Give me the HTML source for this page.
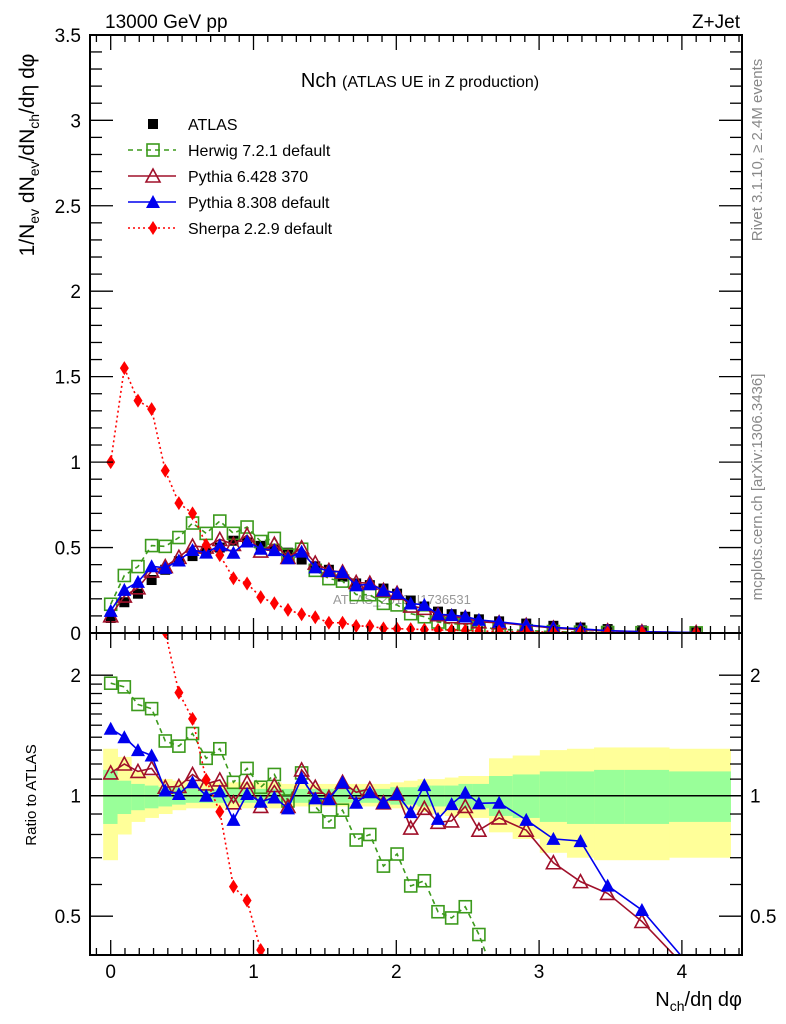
<!DOCTYPE html>
<html><head><meta charset="utf-8"><style>
html,body{margin:0;padding:0;background:#fff;width:786px;height:1024px;overflow:hidden;position:relative;}
svg{display:block;position:absolute;left:0;top:0;font-family:"Liberation Sans",Arial,sans-serif;}
</style></head><body>
<svg id="chart" width="786" height="1024" viewBox="0 0 786 1024" xmlns="http://www.w3.org/2000/svg">
<defs>
<clipPath id="clipTop"><rect x="90" y="35" width="652" height="598"/></clipPath>
<clipPath id="clipBot"><rect x="90" y="633" width="652" height="322"/></clipPath>
</defs>
<g id="bands" clip-path="url(#clipBot)"></g>
<g id="marksBot" clip-path="url(#clipBot)"></g>
<text x="333" y="604" font-size="13" fill="#999">ATLAS_2019_I1736531</text>
<g id="marksTop" clip-path="url(#clipTop)"></g>
<g id="axes"></g>
<text x="105" y="28" font-size="19">13000 GeV pp</text>
<text x="740" y="28" font-size="19" text-anchor="end">Z+Jet</text>
<text x="420" y="87" text-anchor="middle"><tspan font-size="20">Nch </tspan><tspan font-size="16">(ATLAS UE in Z production)</tspan></text>
<g id="legend"></g>
<text transform="translate(762,150) rotate(-90)" text-anchor="middle" font-size="15" fill="#888">Rivet 3.1.10, ≥ 2.4M events</text>
<text transform="translate(762,487) rotate(-90)" text-anchor="middle" font-size="15" fill="#888">mcplots.cern.ch [arXiv:1306.3436]</text>
<text transform="translate(34,155) rotate(-90)" text-anchor="middle" font-size="21">1/N<tspan font-size="14" dy="5">ev</tspan><tspan dy="-5"> dN</tspan><tspan font-size="14" dy="5">ev</tspan><tspan dy="-5">/dN</tspan><tspan font-size="14" dy="5">ch</tspan><tspan dy="-5">/dη dφ</tspan></text>
<text transform="translate(36,795) rotate(-90)" text-anchor="middle" font-size="15">Ratio to ATLAS</text>
<text x="742" y="1006" text-anchor="end" font-size="20">N<tspan font-size="14" dy="5">ch</tspan><tspan dy="-5">/dη dφ</tspan></text>
</svg>
<script>
const xVals=[0,0.0955,0.191,0.2865,0.382,0.4775,0.573,0.6685,0.764,0.8595,0.955,1.0505,1.146,1.2415,1.337,1.4325,1.528,1.6235,1.719,1.8145,1.91,2.0055,2.101,2.1965,2.292,2.3875,2.483,2.5785,2.72,2.91,3.10,3.29,3.48,3.72,4.10];
const atlas=[0.088,0.18,0.23,0.31,0.37,0.42,0.45,0.47,0.50,0.54,0.53,0.51,0.49,0.47,0.43,0.39,0.37,0.33,0.29,0.28,0.26,0.23,0.19,0.155,0.125,0.11,0.095,0.08,0.068,0.055,0.042,0.032,0.023,0.015,0.008];
const herwigRatio=[1.91,1.87,1.69,1.65,1.37,1.33,1.43,1.24,1.31,1.08,1.17,1.05,1.13,0.97,1.14,0.94,0.86,0.92,0.775,0.80,0.667,0.715,0.595,0.613,0.513,0.495,0.528,0.45,0.33,0.25,0.2,0.15,0.12,0.1,0.08];
const pythia6Ratio=[1.14,1.20,1.15,1.17,1.05,1.055,1.13,1.07,1.095,0.96,1.08,0.94,1.06,0.94,1.16,1.05,0.99,1.08,1.02,1.04,0.96,1.01,0.83,0.93,0.858,0.865,0.94,0.82,0.88,0.82,0.68,0.61,0.57,0.485,0.35];
const pythia8Ratio=[1.47,1.40,1.30,1.26,1.03,1.01,1.08,1.0,1.025,0.87,1.01,0.966,0.99,0.93,1.107,0.985,0.98,1.08,0.96,1.02,0.96,1.01,0.91,1.063,0.875,0.953,1.017,0.957,0.96,0.87,0.78,0.77,0.596,0.518,0.36];
const sherpa=[1.0,1.55,1.36,1.31,0.95,0.76,0.70,0.515,0.456,0.32,0.29,0.21,0.174,0.135,0.11,0.092,0.06,0.06,0.041,0.04,0.027,0.025,0.023,0.02,0.018,0.016,0.014,0.012,0.009,0.007,0.005,0.004,0.003,0.002,0.001];
const yellowHi=[1.31,1.25,1.15,1.12,1.10,1.09,1.08,1.08,1.08,1.08,1.08,1.08,1.08,1.07,1.07,1.07,1.07,1.07,1.07,1.07,1.07,1.08,1.09,1.10,1.10,1.11,1.12,1.12,1.24,1.26,1.30,1.31,1.32,1.32,1.31];
const yellowLo=[0.69,0.80,0.86,0.88,0.90,0.92,0.93,0.93,0.93,0.93,0.93,0.93,0.93,0.94,0.94,0.94,0.94,0.94,0.94,0.94,0.94,0.93,0.92,0.91,0.90,0.89,0.88,0.88,0.81,0.78,0.72,0.70,0.69,0.69,0.70];
const greenHi=[1.16,1.09,1.07,1.06,1.05,1.05,1.04,1.04,1.04,1.04,1.04,1.04,1.04,1.04,1.04,1.04,1.04,1.04,1.04,1.04,1.04,1.05,1.05,1.06,1.06,1.06,1.07,1.07,1.12,1.13,1.15,1.15,1.16,1.16,1.15];
const greenLo=[0.85,0.90,0.92,0.93,0.94,0.95,0.96,0.96,0.96,0.96,0.96,0.96,0.96,0.96,0.96,0.96,0.96,0.96,0.96,0.96,0.96,0.95,0.95,0.94,0.94,0.94,0.93,0.93,0.89,0.88,0.86,0.85,0.85,0.85,0.86];
const yTicksTop=[0,0.5,1,1.5,2,2.5,3,3.5];
const yTickLabelsTop=["0","0.5","1","1.5","2","2.5","3","3.5"];
const rTicks=[0.5,1,2];
const rTickLabels=["0.5","1","2"];
const xTicks=[0,1,2,3,4];
const xTickLabels=["0","1","2","3","4"];

const NS="http://www.w3.org/2000/svg";
const X=v=>110.7+142.8*v;
const Y=v=>633-170.9*v;
const R=r=>795.7-120.5*Math.log2(r);
function mk(tag,attrs,parent){const e=document.createElementNS(NS,tag);for(const k in attrs)e.setAttribute(k,attrs[k]);parent.appendChild(e);return e;}
const gTop=document.getElementById('marksTop'),gBot=document.getElementById('marksBot'),gAx=document.getElementById('axes'),gB=document.getElementById('bands'),gL=document.getElementById('legend');

for(let i=0;i<xVals.length;i++){
  const l=i===0?X(xVals[0])-7.5:(X(xVals[i-1])+X(xVals[i]))/2;
  const r=i===xVals.length-1?X(4.34):(X(xVals[i])+X(xVals[i+1]))/2;
  const y=mk('rect',{x:l,y:R(yellowHi[i]),width:r-l+0.5,height:R(yellowLo[i])-R(yellowHi[i]),fill:'#ffff99'},gB);
  
  
  const g=mk('rect',{x:l,y:R(greenHi[i]),width:r-l+0.5,height:R(greenLo[i])-R(greenHi[i]),fill:'#99ff99'},gB);
  
  
}
const one=mk('line',{x1:90,x2:742,y1:R(1),y2:R(1),stroke:'#000','stroke-width':1.5},gB);



function marker(type,color,x,y,parent){
  let e;
  if(type==='sq') e=mk('rect',{x:x-5,y:y-5,width:10,height:10,fill:'#000'},parent);
  else if(type==='osq') e=mk('rect',{x:x-6,y:y-6,width:12,height:12,fill:'none',stroke:color,'stroke-width':1.6},parent);
  else if(type==='otri') e=mk('polygon',{points:`${x},${y-7} ${x-7},${y+6} ${x+7},${y+6}`,fill:'none',stroke:color,'stroke-width':1.6},parent);
  else if(type==='tri') e=mk('polygon',{points:`${x},${y-7} ${x-7},${y+6} ${x+7},${y+6}`,fill:color},parent);
  else e=mk('polygon',{points:`${x},${y-7} ${x-4.5},${y} ${x},${y+7} ${x+4.5},${y}`,fill:color},parent);
  return e;
}
const series=[
 {name:'herwig',color:'#3c9a1c',type:'osq',dash:'5,4',w:1.6,top:atlas.map((a,i)=>a*herwigRatio[i]),ratio:herwigRatio},
 {name:'pythia6',color:'#a0102a',type:'otri',dash:'',w:1.6,top:atlas.map((a,i)=>a*pythia6Ratio[i]),ratio:pythia6Ratio},
 {name:'pythia8',color:'#0000ee',type:'tri',dash:'',w:1.6,top:atlas.map((a,i)=>a*pythia8Ratio[i]),ratio:pythia8Ratio},
 {name:'sherpa',color:'#ff0000',type:'dia',dash:'2,3',w:1.6,top:sherpa,ratio:sherpa.map((s,i)=>s/atlas[i])}
];
atlas.forEach((v,i)=>{const m=marker('sq','#000',X(xVals[i]),Y(v),gTop);
  
  });
series.forEach(s=>{
  const pl=mk('polyline',{points:xVals.map((x,i)=>X(x)+','+Y(s.top[i])).join(' '),fill:'none',stroke:s.color,'stroke-width':s.w,'stroke-dasharray':s.dash},gTop);
  
  
  xVals.forEach((x,i)=>{const m=marker(s.type,s.color,X(x),Y(s.top[i]),gTop);
    
    });
  const pr=mk('polyline',{points:xVals.map((x,i)=>X(x)+','+R(s.ratio[i])).join(' '),fill:'none',stroke:s.color,'stroke-width':s.w,'stroke-dasharray':s.dash},gBot);
  
  
  xVals.forEach((x,i)=>{const m=marker(s.type,s.color,X(x),R(s.ratio[i]),gBot);
    
    });
});
[[90,35,652,598],[90,633,652,322]].forEach(f=>{const r=mk('rect',{x:f[0],y:f[1],width:f[2],height:f[3],fill:'none',stroke:'#000','stroke-width':2},gAx);
  
  });
for(let k=0;k<=35;k++){const v=k/10,yy=Y(v),L=(k%5===0)?23:12;
  mk('line',{x1:90,x2:90+L,y1:yy,y2:yy,stroke:'#000','stroke-width':1.3},gAx);
  mk('line',{x1:742,x2:742-L,y1:yy,y2:yy,stroke:'#000','stroke-width':1.3},gAx);}
yTicksTop.forEach((v,i)=>{const t=mk('text',{x:81,y:Y(v)+7,'text-anchor':'end','font-size':19},gAx);t.textContent=yTickLabelsTop[i];
  
  });
[0.4,0.5,0.6,0.7,0.8,0.9,1,1.1,1.2,1.3,1.4,1.5,1.6,1.7,1.8,1.9,2].forEach(v=>{const yy=R(v);if(yy<633||yy>955)return;const L=rTicks.includes(v)?23:12;
  mk('line',{x1:90,x2:90+L,y1:yy,y2:yy,stroke:'#000','stroke-width':1.3},gAx);
  mk('line',{x1:742,x2:742-L,y1:yy,y2:yy,stroke:'#000','stroke-width':1.3},gAx);});
rTicks.forEach((v,i)=>{
  const t=mk('text',{x:81,y:R(v)+7,'text-anchor':'end','font-size':19},gAx);t.textContent=rTickLabels[i];
  
  
  const t2=mk('text',{x:750,y:R(v)+7,'font-size':19},gAx);t2.textContent=rTickLabels[i];
  
  });
for(let k=-1;k<=44;k++){const xx=X(k/10);if(xx<90||xx>742)continue;const maj=k%10===0;
  [[35,1],[633,1],[633,-1],[955,-1]].forEach(p=>mk('line',{x1:xx,x2:xx,y1:p[0],y2:p[0]+p[1]*(maj?15:7),stroke:'#000','stroke-width':1.3},gAx));}
xTicks.forEach((v,i)=>{const t=mk('text',{x:X(v),y:978,'text-anchor':'middle','font-size':19},gAx);t.textContent=xTickLabels[i];
  
  });
const leg=[['ATLAS','sq','#000',''],['Herwig 7.2.1 default','osq','#3c9a1c','5,4'],['Pythia 6.428 370','otri','#a0102a',''],['Pythia 8.308 default','tri','#0000ee',''],['Sherpa 2.2.9 default','dia','#ff0000','2,3']];
leg.forEach((e,i)=>{const yy=124+i*26;
  if(i>0){const l=mk('line',{x1:128,x2:176,y1:yy,y2:yy,stroke:e[2],'stroke-width':1.4,'stroke-dasharray':e[3]},gL);
    
    }
  const m=marker(e[1],e[2],153,yy,gL);
  
  
  const t=mk('text',{x:188,y:yy+6,'font-size':16},gL);t.textContent=e[0];
  
  });
</script>
</body></html>
